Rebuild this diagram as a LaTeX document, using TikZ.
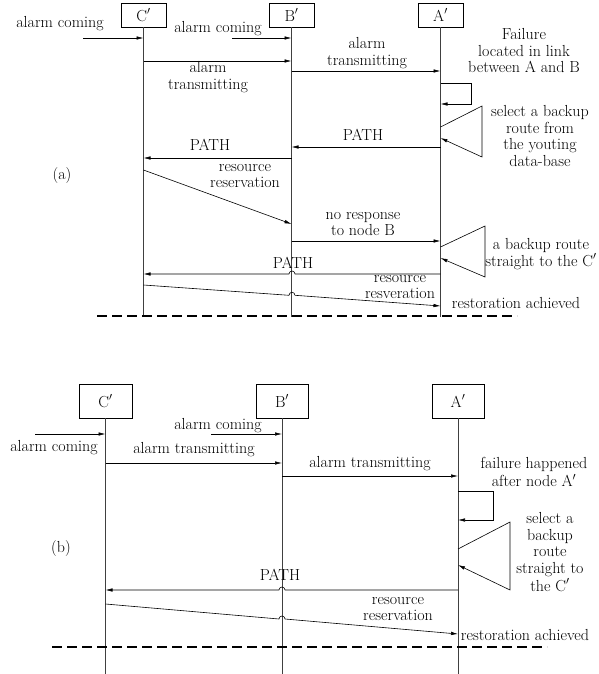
\documentclass[tikz,border=0pt]{standalone}
\usetikzlibrary{arrows.meta}
\begin{document}
\begin{tikzpicture}[x=1pt,y=-1pt,
  lbl/.style={font=\fontsize{16}{16.5}\selectfont, align=center, inner sep=0pt},
  lblp/.style={lbl, font=\fontsize{16}{18}\selectfont},
  obj/.style={draw, line width=0.6pt, font=\fontsize{16}{16}\selectfont, inner sep=0pt},
  life/.style={draw=black!75, line width=0.7pt},
  msg/.style={line width=0.6pt, -{Latex[length=7pt,width=3.5pt]}},
  sep/.style={line width=2pt, dash pattern=on 10pt off 5pt}]
\useasboundingbox (0,0) rectangle (599,674);
% ---------------- panel (a)
\node[obj, minimum width=45pt, minimum height=24pt] (Ca) at (143.5,15) {C$'$};
\node[obj, minimum width=45pt, minimum height=24pt] (Ba) at (291.5,15) {B$'$};
\node[obj, minimum width=45pt, minimum height=24pt] (Aa) at (440.5,15) {A$'$};
\draw[life] (Ca.south) -- (Ca|-0,317);
\draw[life] (Ba.south) -- (Ba|-0,317);
\draw[life] (Aa.south) -- (Aa|-0,317);
\coordinate (ain1) at (83,38);
\coordinate (ain2) at (232,38);
\draw[msg] (ain1) -- (Ca|-ain1);
\node[lbl] (ta1) at (60,24) {alarm coming};
\draw[msg] (ain2) -- (Ba|-ain2);
\node[lbl] (ta2) at (218,29) {alarm coming};
\draw[msg] (Ca|-0,61) -- (Ba|-0,61);
\node[lbl] (ta3) at (208,77) {alarm\\transmitting};
\draw[msg] (Ba|-0,71) -- (Aa|-0,71);
\node[lbl] (ta4) at (367,53) {alarm\\transmitting};
\node[lbl] (ta5) at (524,51) {Failure\\located in link\\between A and B};
\draw[msg] (Aa|-0,83) -| (471,104) -- (Aa|-0,104);
\draw[msg] (Aa|-0,127) -- (482,106) -- (482,157) -- (Aa|-0,138);
\node[lbl] (ta6) at (540,136) {select a backup\\route from\\the youting\\data-base};
\draw[msg] (Aa|-0,147) -- (Ba|-0,147);
\node[lbl] (ta7) at (363,135) {PATH};
\draw[msg] (Ba|-0,158) -- (Ca|-0,158);
\node[lbl] (ta8) at (210,145) {PATH};
\draw[msg] (Ca|-0,170) -- (Ba|-0,224);
\node[lbl] (ta9) at (245,176) {resource\\reservation};
\node[lbl] (la) at (62,176) {(a)};
\draw[msg] (Ba|-0,241) -- (Aa|-0,241);
\node[lbl] (ta10) at (363,224) {no response\\to node B};
\draw[msg] (Aa|-0,247) -- (485,226) -- (485,277) -- (Aa|-0,258);
\node[lbl] (ta11) at (541,254) {a backup route\\straight to the C$'$};
\draw[msg] (Aa|-0,274) -- (295,274) arc[start angle=0,end angle=180,radius=3pt] -- (Ca|-0,274);
\node[lbl] (ta12) at (293,263) {PATH};
\draw[msg] (Ca|-0,285) -- (289,295.3) arc[start angle=180,end angle=0,radius=3pt] -- (Aa|-0,306);
\node[lbl] (ta13) at (400,287) {resource\\resveration};
\node[lbl] (ta14) at (516,303) {restoration achieved};
\draw[sep] (97,316) -- (517,316);
% ---------------- panel (b)
\node[obj, minimum width=53pt, minimum height=34pt] (Cb) at (105.5,401) {C$'$};
\node[obj, minimum width=52pt, minimum height=34pt] (Bb) at (282,401) {B$'$};
\node[obj, minimum width=52pt, minimum height=34pt] (Ab) at (458,401) {A$'$};
\draw[life] (Cb.south) -- (Cb|-0,674);
\draw[life] (Bb.south) -- (Bb|-0,674);
\draw[life] (Ab.south) -- (Ab|-0,674);
\coordinate (bin1) at (35,434);
\coordinate (bin2) at (211,434);
\draw[msg] (bin1) -- (Cb|-bin1);
\node[lbl] (tb1) at (54,448) {alarm coming};
\draw[msg] (bin2) -- (Bb|-bin2);
\node[lbl] (tb2) at (218,426) {alarm coming};
\draw[msg] (Cb|-0,463) -- (Bb|-0,463);
\node[lbl] (tb3) at (194,450) {alarm transmitting};
\draw[msg] (Bb|-0,476) -- (Ab|-0,476);
\node[lbl] (tb4) at (370,464) {alarm transmitting};
\node[lblp] (tb5) at (534,472) {failure happened\\after node A$'$};
\draw[msg] (Ab|-0,491) -| (493,520) -- (Ab|-0,520);
\draw[msg] (Ab|-0,549) -- (510,522) -- (510,590) -- (Ab|-0,565);
\node[lbl] (tb6) at (550,552) {select a\\backup\\route\\straight to\\[1.5pt]the C$'$};
\node[lbl] (lb) at (61,549) {(b)};
\draw[msg] (Ab|-0,590) -- (285,590) arc[start angle=0,end angle=180,radius=3pt] -- (Cb|-0,590);
\node[lbl] (tb7) at (280,575) {PATH};
\draw[msg] (Cb|-0,604) -- (279,619) arc[start angle=180,end angle=0,radius=3pt] -- (Ab|-0,634);
\node[lbl] (tb8) at (398,609) {resource\\reservation};
\node[lbl] (tb9) at (525,635) {restoration achieved};
\draw[sep] (52,647) -- (547,647);
\end{tikzpicture}
\end{document}
